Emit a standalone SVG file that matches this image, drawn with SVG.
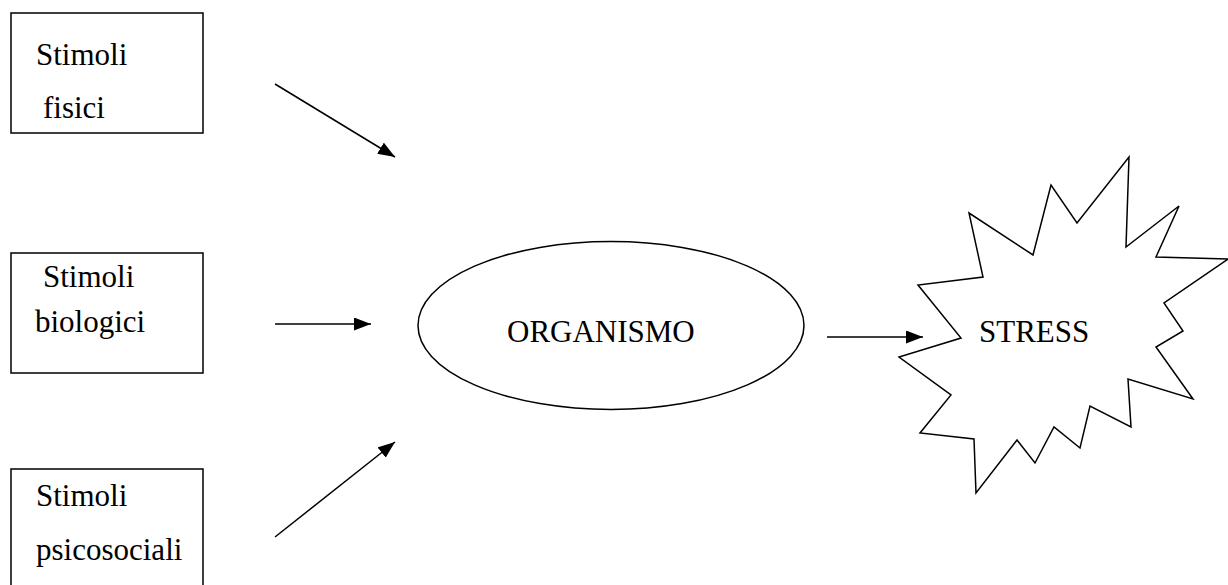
<svg xmlns="http://www.w3.org/2000/svg" width="1228" height="585" viewBox="0 0 1228 585">
<defs>
<style>
.box{fill:#fff;stroke:#000;stroke-width:1.5}
.lbl{font-family:'Liberation Serif','Times New Roman',Tinos,'DejaVu Serif',serif;font-size:31px;fill:#000}
.conn{stroke:#000;stroke-width:1.5;fill:none;marker-end:url(#ah)}
</style>
<marker id="ah" viewBox="0 0 17 13" refX="17" refY="6.5" markerWidth="17" markerHeight="13" markerUnits="userSpaceOnUse" orient="auto">
<path d="M0,0 L17,6.5 L0,13 Z" fill="#000"/>
</marker>
</defs>
<rect width="1228" height="585" fill="#fff"/>
<g id="stimoli-fisici">
<rect class="box" x="11" y="13" width="192" height="120"/>
<text class="lbl" font-family="Liberation Serif, serif" x="36" y="65">Stimoli</text>
<text class="lbl" font-family="Liberation Serif, serif" x="43" y="118">fisici</text>
</g>
<g id="stimoli-biologici">
<rect class="box" x="11" y="253" width="192" height="120"/>
<text class="lbl" font-family="Liberation Serif, serif" x="43" y="287">Stimoli</text>
<text class="lbl" font-family="Liberation Serif, serif" x="35" y="332">biologici</text>
</g>
<g id="stimoli-psicosociali">
<rect class="box" x="11" y="469" width="192" height="140"/>
<text class="lbl" font-family="Liberation Serif, serif" x="36" y="506">Stimoli</text>
<text class="lbl" font-family="Liberation Serif, serif" x="36" y="560">psicosociali</text>
</g>
<g id="organismo">
<ellipse class="box" cx="611" cy="325.5" rx="193" ry="84"/>
<text class="lbl" font-family="Liberation Serif, serif" x="507" y="342">ORGANISMO</text>
</g>
<g id="stress">
<polygon class="box" points="1129,157 1126,247 1179,206 1156,257 1228,259 1164,303 1183,331 1156,347 1193,399 1128,379 1131,427 1090,406 1080,448 1054,427 1035,463 1017,440 976,493 974,439 920,433 951,395 899,357 961,338 918,285 983,277 969,213 1033,255 1051,185 1077,223"/>
<text class="lbl" font-family="Liberation Serif, serif" x="979" y="342">STRESS</text>
</g>
<g id="connectors">
<line class="conn" x1="275" y1="84" x2="395" y2="157"/>
<line class="conn" x1="275" y1="324" x2="371" y2="324"/>
<line class="conn" x1="275" y1="537" x2="395" y2="442"/>
<line class="conn" x1="827" y1="337" x2="923" y2="337"/>
</g>
</svg>
